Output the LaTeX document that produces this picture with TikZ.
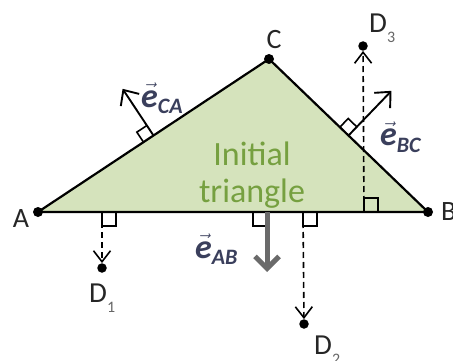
\documentclass[tikz,border=0pt]{standalone}
\usepackage{fontspec}
\setmainfont{Carlito}
\usepackage{amsmath}
\usetikzlibrary{arrows.meta,calc}
\definecolor{trifill}{HTML}{D5E3BC}
\definecolor{trigreen}{HTML}{76A040}
\definecolor{veccol}{HTML}{3A3F5C}
\definecolor{abgray}{HTML}{6A6A6A}
\definecolor{subgray}{HTML}{666666}
\newcommand{\evec}[1]{{\fontsize{34}{34}\selectfont$\vec{\text{\bfseries\itshape e}}$}{\fontsize{22}{22}\selectfont\raisebox{-6pt}{\bfseries\itshape #1}}}
\newcommand{\dlab}[1]{D{\fontsize{16}{16}\selectfont\color{subgray}\raisebox{-10pt}{#1}}}
\begin{document}
\begin{tikzpicture}[x=1pt,y=-1pt,
  vtx/.style={circle,fill=black,inner sep=0pt,minimum size=10pt},
  ddot/.style={circle,fill=black,inner sep=0pt,minimum size=9.5pt},
  edge/.style={line width=2.2pt,line join=round},
  rsq/.style={line width=1.6pt},
  normarr/.style={line width=1.9pt,-{Straight Barb[length=12pt,width=22pt]}},
  dasharr/.style={line width=1.6pt,dash pattern=on 6pt off 4pt,-{Straight Barb[length=11pt,width=17pt]}},
  abarr/.style={abgray,line width=5pt,-{Straight Barb[length=12pt,width=24pt]}},
  ptlabel/.style={font=\fontsize{28}{28}\selectfont,text=black!85,inner sep=0pt},
  dlabel/.style={font=\fontsize{29}{29}\selectfont,text=black!85,inner sep=0pt,anchor=base west},
  veclabel/.style={text=veccol,inner sep=0pt,anchor=base west}]
\useasboundingbox (0,0) rectangle (453,361);
% vertices
\coordinate (A) at (38,212);
\coordinate (B) at (428,212);
\coordinate (C) at (269,59);
\fill[trifill] (A) -- (B) -- (C) -- cycle;
\node[align=center,inner sep=0pt,text=trigreen,font=\fontsize{34}{37}\selectfont] (title) at (252,175) {Initial\\triangle};
\draw[edge] (A) -- (B) -- (C) -- cycle;
\node[vtx] (Ad) at (A) {};
\node[vtx] (Bd) at (B) {};
\node[vtx] (Cd) at (C) {};
\node[ptlabel] (Al) at (21,219) {A};
\node[ptlabel,anchor=west] (Bl) at (441,212) {B};
\node[ptlabel] (Cl) at (274,40) {C};
% normal on CA
\coordinate (M1) at ($(C)!0.5!(A)$);
\coordinate (P1) at ($(M1)!12pt!(A)$);
\coordinate (Q1) at ($(M1)!12pt!-90:(A)$);
\coordinate (T1) at ($(M1)!56pt!-90:(A)$);
\draw[rsq] (P1) -- ($(P1)+(Q1)-(M1)$) -- (Q1);
\draw[normarr] (M1) -- (T1);
\node[veclabel] (eCA) at (141,107) {\evec{CA}};
% normal on BC
\coordinate (M2) at ($(B)!0.5!(C)$);
\coordinate (P2) at ($(M2)!12pt!(C)$);
\coordinate (Q2) at ($(M2)!12pt!-90:(C)$);
\coordinate (T2) at ($(M2)!62pt!-90:(C)$);
\draw[rsq] (P2) -- ($(P2)+(Q2)-(M2)$) -- (Q2);
\draw[normarr] (M2) -- (T2);
\node[veclabel] (eBC) at (380,146) {\evec{BC}};
% normal on AB
\coordinate (M3) at (267,212);
\coordinate (T3) at (267,272);
\draw[rsq] (253,212) rectangle (267,226);
\draw[abarr] (M3) -- (T3);
\node[veclabel] (eAB) at (195,258) {\evec{AB}};
% projections
\coordinate (F1) at (102,212);
\coordinate (F2) at (303,212);
\coordinate (F3) at (364,212);
\node[ddot] (D1) at (102,268) {};
\node[ddot] (D2) at (304,324) {};
\node[ddot] (D3) at (363,46) {};
\draw[rsq] (F1) rectangle ++(14,14);
\draw[rsq] (F2) rectangle ++(14,14);
\draw[rsq] (F3) rectangle ++(14,-14);
\draw[dasharr] (F1) -- (D1);
\draw[dasharr] (F2) -- (D2);
\draw[dasharr] (F3) -- (D3);
\node[dlabel] (D1l) at (89,302) {\dlab{1}};
\node[dlabel] (D2l) at (314,354) {\dlab{2}};
\node[dlabel] (D3l) at (369,33) {\dlab{3}};
\end{tikzpicture}
\end{document}
